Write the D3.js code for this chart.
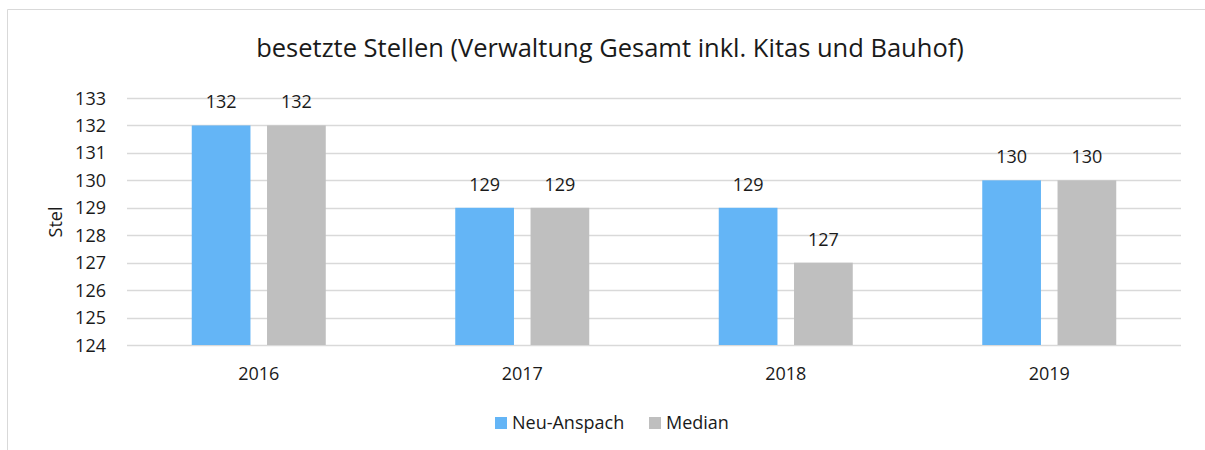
<!DOCTYPE html>
<html>
<head>
<meta charset="utf-8">
<script src="https://cdnjs.cloudflare.com/ajax/libs/d3/7.8.5/d3.min.js"></script>
<style>
  body { margin: 0; background: #fff; }
  svg text { font-family: "Open Sans", "Noto Sans", sans-serif; fill: #1a1a1a; }
</style>
</head>
<body>
<div id="chart"></div>
<script>
// Chart data
var years = ['2016', '2017', '2018', '2019'];
var seriesNames = ['Neu-Anspach', 'Median'];
var neuAnspach = [132, 129, 129, 130];
var median = [132, 129, 127, 130];
var yTicks = [124, 125, 126, 127, 128, 129, 130, 131, 132, 133];

var colors = ['#64b5f6', '#bfbfbf'];
var width = 1205;
var height = 450;
var plot = { left: 127, right: 1181, top: 98, bottom: 345 };

var svg = d3.select('#chart')
            .append('svg')
            .attr('width', width)
            .attr('height', height);

// Chart border
svg.append('path')
   .attr('d', 'M7.5,' + height + 'V9.5H' + width)
   .attr('fill', 'none')
   .attr('stroke', '#d9d9d9')
   .attr('stroke-width', 1);

// Title
svg.append('text')
   .attr('x', 610)
   .attr('y', 57)
   .attr('text-anchor', 'middle')
   .attr('font-size', 25.5)
   .text('besetzte Stellen (Verwaltung Gesamt inkl. Kitas und Bauhof)');

var x = d3.scaleBand()
          .domain(years)
          .range([plot.left, plot.right]);

var y = d3.scaleLinear()
          .domain([124, 133])
          .range([plot.bottom, plot.top]);

// Gridlines
svg.append('g')
   .selectAll('line')
   .data(yTicks)
   .enter()
   .append('line')
   .attr('x1', plot.left)
   .attr('x2', plot.right)
   .attr('y1', function (d) { return Math.round(y(d)) + 0.5; })
   .attr('y2', function (d) { return Math.round(y(d)) + 0.5; })
   .attr('stroke', '#d9d9d9')
   .attr('stroke-width', 1.5);

// Y axis labels
svg.append('g')
   .selectAll('text')
   .data(yTicks)
   .enter()
   .append('text')
   .attr('x', 106)
   .attr('y', function (d) { return y(d) + 6.5; })
   .attr('text-anchor', 'end')
   .attr('font-size', 18)
   .text(function (d) { return d; });

// Y axis title
svg.append('text')
   .attr('transform', 'translate(62,222) rotate(-90)')
   .attr('text-anchor', 'middle')
   .attr('font-size', 18)
   .text('Stel');

// X axis labels
svg.append('g')
   .selectAll('text')
   .data(years)
   .enter()
   .append('text')
   .attr('x', function (d) { return x(d) + x.bandwidth() / 2; })
   .attr('y', 380)
   .attr('text-anchor', 'middle')
   .attr('font-size', 18)
   .text(function (d) { return d; });

// Bars
var inner = d3.scaleBand()
              .domain(seriesNames)
              .range([-67, 67])
              .paddingInner(0.22);

var rows = years.map(function (yr, i) {
  return [
    { year: yr, name: seriesNames[0], value: neuAnspach[i] },
    { year: yr, name: seriesNames[1], value: median[i] }
  ];
});

var groups = svg.append('g')
                .selectAll('g')
                .data(rows)
                .enter()
                .append('g')
                .attr('transform', function (d) {
                  return 'translate(' + (x(d[0].year) + x.bandwidth() / 2) + ',0)';
                });

groups.selectAll('rect')
      .data(function (d) { return d; })
      .enter()
      .append('rect')
      .attr('x', function (d) { return inner(d.name); })
      .attr('width', inner.bandwidth())
      .attr('y', function (d) { return y(d.value); })
      .attr('height', function (d) { return plot.bottom - y(d.value); })
      .attr('fill', function (d, i) { return colors[i]; });

groups.selectAll('text')
      .data(function (d) { return d; })
      .enter()
      .append('text')
      .attr('x', function (d) { return inner(d.name) + inner.bandwidth() / 2; })
      .attr('y', function (d) { return y(d.value) - 17; })
      .attr('text-anchor', 'middle')
      .attr('font-size', 18)
      .text(function (d) { return d.value; });

// Legend
var legend = svg.append('g');
var legendX = [495, 649];
seriesNames.forEach(function (name, i) {
  legend.append('rect')
        .attr('x', legendX[i])
        .attr('y', 417)
        .attr('width', 12)
        .attr('height', 12)
        .attr('fill', colors[i]);
  legend.append('text')
        .attr('x', legendX[i] + 17)
        .attr('y', 429)
        .attr('font-size', 18)
        .text(name);
});
</script>
</body>
</html>
